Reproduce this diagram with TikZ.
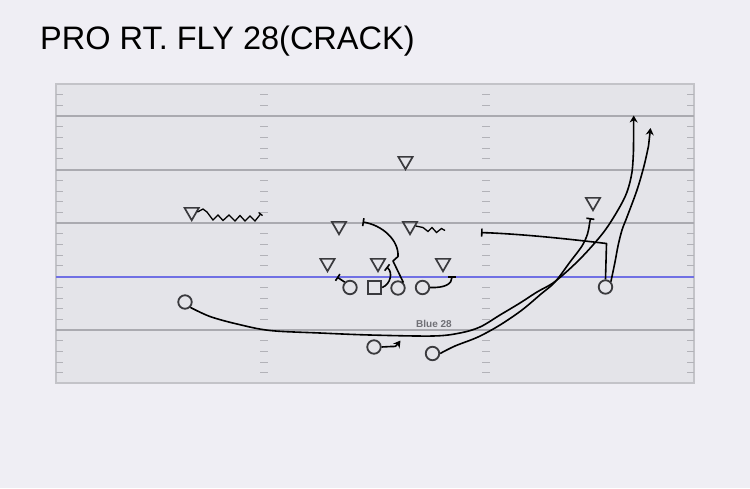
\documentclass[tikz,border=0pt]{standalone}
\usepackage{fontspec}
\setmainfont{Liberation Sans}
\usetikzlibrary{shapes.geometric,arrows.meta}

\definecolor{pagebg}{RGB}{239,238,244}
\definecolor{fieldbg}{RGB}{228,228,233}
\definecolor{yardgray}{RGB}{170,170,176}
\definecolor{hashgray}{RGB}{178,178,184}
\definecolor{losblue}{RGB}{112,112,228}
\definecolor{playergray}{RGB}{58,58,62}
\definecolor{labelgray}{RGB}{112,112,118}

\tikzset{
  offense/.style={circle, draw=playergray, line width=1.8pt, minimum size=13.5pt, inner sep=0pt},
  snapper/.style={rectangle, draw=playergray, line width=1.8pt, minimum width=13.5pt, minimum height=12.5pt, inner sep=0pt},
  defense/.style={regular polygon, regular polygon sides=3, shape border rotate=180, draw=playergray, line width=1.7pt, minimum size=16.5pt, inner sep=0pt},
  route/.style={line width=1.6pt, line join=round},
  block/.style={route, -{Bar[width=8pt]}},
  wiggle/.style={line width=1.3pt, line join=miter},
}

\begin{document}
\begin{tikzpicture}[x=1pt, y=-1pt, >={Stealth[length=7pt, width=8pt]}]
  \useasboundingbox (0, 0) rectangle (750, 488);
  \fill[pagebg] (0, 0) rectangle (750, 488);

  % field
  \fill[fieldbg] (56, 84) rectangle (694, 383);
  \draw[line width=1.2pt, color=yardgray!70] (56, 84) rectangle (694, 383);
  \foreach \n [evaluate=\n as \yy using 84+10.7*\n] in {1,2,4,5,6,7,9,10,11,12,14,15,16,17,19,20,21,22,24,25,26,27}
    \draw[hashgray, line width=1pt] (56, \yy) -- (63, \yy) (260, \yy) -- (268, \yy)
      (482, \yy) -- (490, \yy) (687, \yy) -- (694, \yy);
  \foreach \yy in {116, 169.5, 223, 330}
    \draw[yardgray, line width=2pt] (56, \yy) -- (694, \yy);
  \draw[losblue, line width=2pt] (56, 276.5) -- (694, 276.5);

  \node[anchor=base west, inner sep=0pt, font=\fontsize{32.5}{38}\selectfont] (title) at (40, 49.5) {PRO RT. FLY 28(CRACK)};
  \node[anchor=base, inner sep=0pt, text=labelgray, font=\fontsize{10}{12}\selectfont\bfseries] (play) at (434, 327) {Blue 28};

  % offense
  \node[offense] (lb) at (185, 302) {};
  \node[offense] (lg) at (350, 287.5) {};
  \node[snapper] (c) at (374.5, 287.5) {};
  \node[offense] (rg) at (398, 288) {};
  \node[offense] (rt) at (422.5, 287.5) {};
  \node[offense] (fb) at (374, 347) {};
  \node[offense] (tb) at (432.5, 353.5) {};
  \node[offense] (wr) at (605.5, 287) {};

  % defense
  \node[defense] (dcl) at (191.7, 212) {};
  \node[defense] (lbl) at (339, 226) {};
  \node[defense] (lbr) at (410, 226) {};
  \node[defense] (fs) at (405.5, 161) {};
  \node[defense] (del) at (327.5, 263) {};
  \node[defense] (dtl) at (378, 263) {};
  \node[defense] (der) at (443, 263) {};
  \node[defense] (dcr) at (593, 202) {};

  % routes
  \draw[route, ->] plot[smooth, tension=0.55] coordinates {(lb.south east) (210, 316.5) (237, 324) (270, 330.5)
    (320, 333) (370, 335) (433, 336) (460, 333) (480, 327) (500, 315) (520, 303) (537, 292) (555, 281.5)
    (580, 259) (603, 233) (618, 210) (627, 192) (632, 172) (633.5, 150)} -- (633.7, 115.5);
  \draw[block] plot[smooth, tension=0.55] coordinates {(tb.east) (455, 346) (478, 337) (500, 325) (522, 310)
    (541, 294) (555, 282) (570, 262) (582, 246) (587.5, 234) (589.5, 224) (590.5, 218)};
  \draw[route, ->] plot[smooth, tension=0.55] coordinates {(wr.north east) (615, 262) (618, 246) (622, 230)
    (627, 217) (637, 190) (644, 166) (648.5, 146)} -- (650.5, 128);
  \draw[block] (wr.north) -- (606.5, 243.5) .. controls (560, 238) and (520, 234) .. (481, 232.5);
  \draw[block] (rt.east) .. controls (445, 288) and (452, 284) .. (452, 276);
  \draw[block] (rg.north east) -- (393, 261) -- (398, 256.5) .. controls (399, 240) and (382, 225) .. (362.5, 222);
  \draw[block] (c.east) .. controls (391, 284) and (393, 272) .. (386.5, 267);
  \draw[block] (lg.north west) -- (337, 277);
  \draw[route, ->] (fb.east) -- (391, 346.5) .. controls (396, 346.5) .. (400.5, 340.5);
  \draw[wiggle, -{Bar[width=5pt]}] (dcl.east) -- (203, 209) -- (207, 212) -- (213, 220) -- (218, 215)
    -- (223, 220.5) -- (229, 215) -- (235, 221) -- (240, 215.5) -- (245, 221) -- (250, 216) -- (255, 221) -- (261, 213.5);
  \draw[wiggle] (lbr.east) -- (423, 227.5) -- (428, 231.5) -- (432, 227.5) -- (436.5, 232.5) -- (441.5, 228.5) -- (445, 230.5);
\end{tikzpicture}
\end{document}
